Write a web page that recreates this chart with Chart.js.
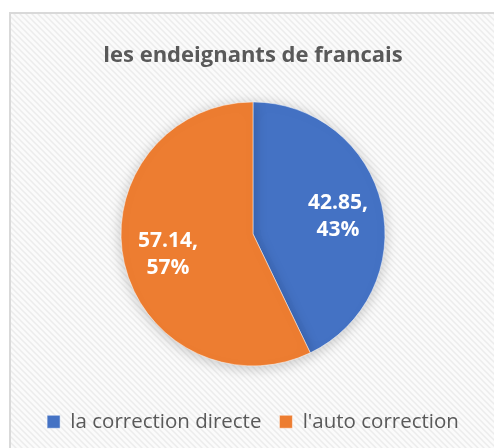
<!DOCTYPE html>
<html>
<head>
<meta charset="utf-8">
<script src="https://cdn.jsdelivr.net/npm/chart.js@4"></script>
<style>
  html, body { margin: 0; padding: 0; background: #fff; }
  #wrap { width: 494px; height: 448px; }
</style>
</head>
<body>
<div id="wrap"><canvas id="graphique" width="494" height="448"></canvas></div>
<script>
const categories = ["la correction directe", "l'auto correction"];
const valeurs = [42.85, 57.14];
const pourcentages = ["43%", "57%"];
const couleurs = ["#4472C4", "#ED7D31"];

// fond hachuré + cadre gris
const fondPlugin = {
    id: "fond",
    beforeDraw(chart) {
        const ctx = chart.ctx;
        const motif = document.createElement("canvas");
        motif.width = 6;
        motif.height = 6;
        const m = motif.getContext("2d");
        m.fillStyle = "#fbfbfb";
        m.fillRect(0, 0, 6, 6);
        m.strokeStyle = "#ececec";
        m.lineWidth = 1.5;
        m.beginPath();
        m.moveTo(0, 0); m.lineTo(6, 6);
        m.moveTo(-3, 3); m.lineTo(3, 9);
        m.moveTo(3, -3); m.lineTo(9, 3);
        m.stroke();
        ctx.save();
        ctx.fillStyle = "#fff";
        ctx.fillRect(0, 0, chart.width, chart.height);
        ctx.fillStyle = ctx.createPattern(motif, "repeat");
        ctx.fillRect(10, 13, 484, 440);
        ctx.strokeStyle = "#d9d9d9";
        ctx.lineWidth = 2;
        ctx.strokeRect(10, 13, 490, 450);
        ctx.restore();
    }
};

// ombre douce sous le camembert
const ombrePlugin = {
    id: "ombre",
    beforeDatasetsDraw(chart) {
        const ctx = chart.ctx;
        ctx.save();
        ctx.shadowColor = "rgba(0,0,0,0.22)";
        ctx.shadowBlur = 14;
        ctx.shadowOffsetY = 2;
    },
    afterDatasetsDraw(chart) {
        chart.ctx.restore();
    }
};

// étiquettes blanches dans les parts
const etiquettesPlugin = {
    id: "etiquettes",
    afterDatasetsDraw(chart) {
        const ctx = chart.ctx;
        const meta = chart.getDatasetMeta(0);
        ctx.save();
        ctx.fillStyle = "#fff";
        ctx.font = "bold 21px 'Open Sans'";
        ctx.textAlign = "center";
        ctx.textBaseline = "middle";
        meta.data.forEach((arc, i) => {
            const p = arc.getProps(["x", "y", "startAngle", "endAngle", "outerRadius"], true);
            const milieu = (p.startAngle + p.endAngle) / 2;
            const r = p.outerRadius * 0.66;
            const x = p.x + Math.cos(milieu) * r;
            const y = p.y + Math.sin(milieu) * r;
            ctx.fillText(valeurs[i] + ",", x, y - 12);
            ctx.fillText(pourcentages[i], x, y + 15);
        });
        ctx.restore();
    }
};

const ctx = document.getElementById("graphique").getContext("2d");
new Chart(ctx, {
    type: "pie",
    data: {
        labels: categories,
        datasets: [{
            data: valeurs,
            backgroundColor: couleurs,
            borderColor: "#ffffff",
            borderWidth: 0.5,
            radius: 132
        }]
    },
    options: {
        responsive: false,
        animation: false,
        layout: { padding: { left: 12, right: 0, top: 0, bottom: 6 } },
        plugins: {
            tooltip: { enabled: false },
            title: {
                display: true,
                text: "les endeignants de francais",
                color: "#595959",
                font: { family: "'Open Sans'", size: 22, weight: "bold" },
                padding: { top: 43, bottom: 5 }
            },
            legend: {
                position: "bottom",
                labels: {
                    color: "#595959",
                    font: { family: "'Open Sans'", size: 20.5 },
                    boxWidth: 13,
                    boxHeight: 13,
                    padding: 18,
                    useBorderRadius: false
                }
            }
        }
    },
    plugins: [fondPlugin, ombrePlugin, etiquettesPlugin]
});
</script>
</body>
</html>
